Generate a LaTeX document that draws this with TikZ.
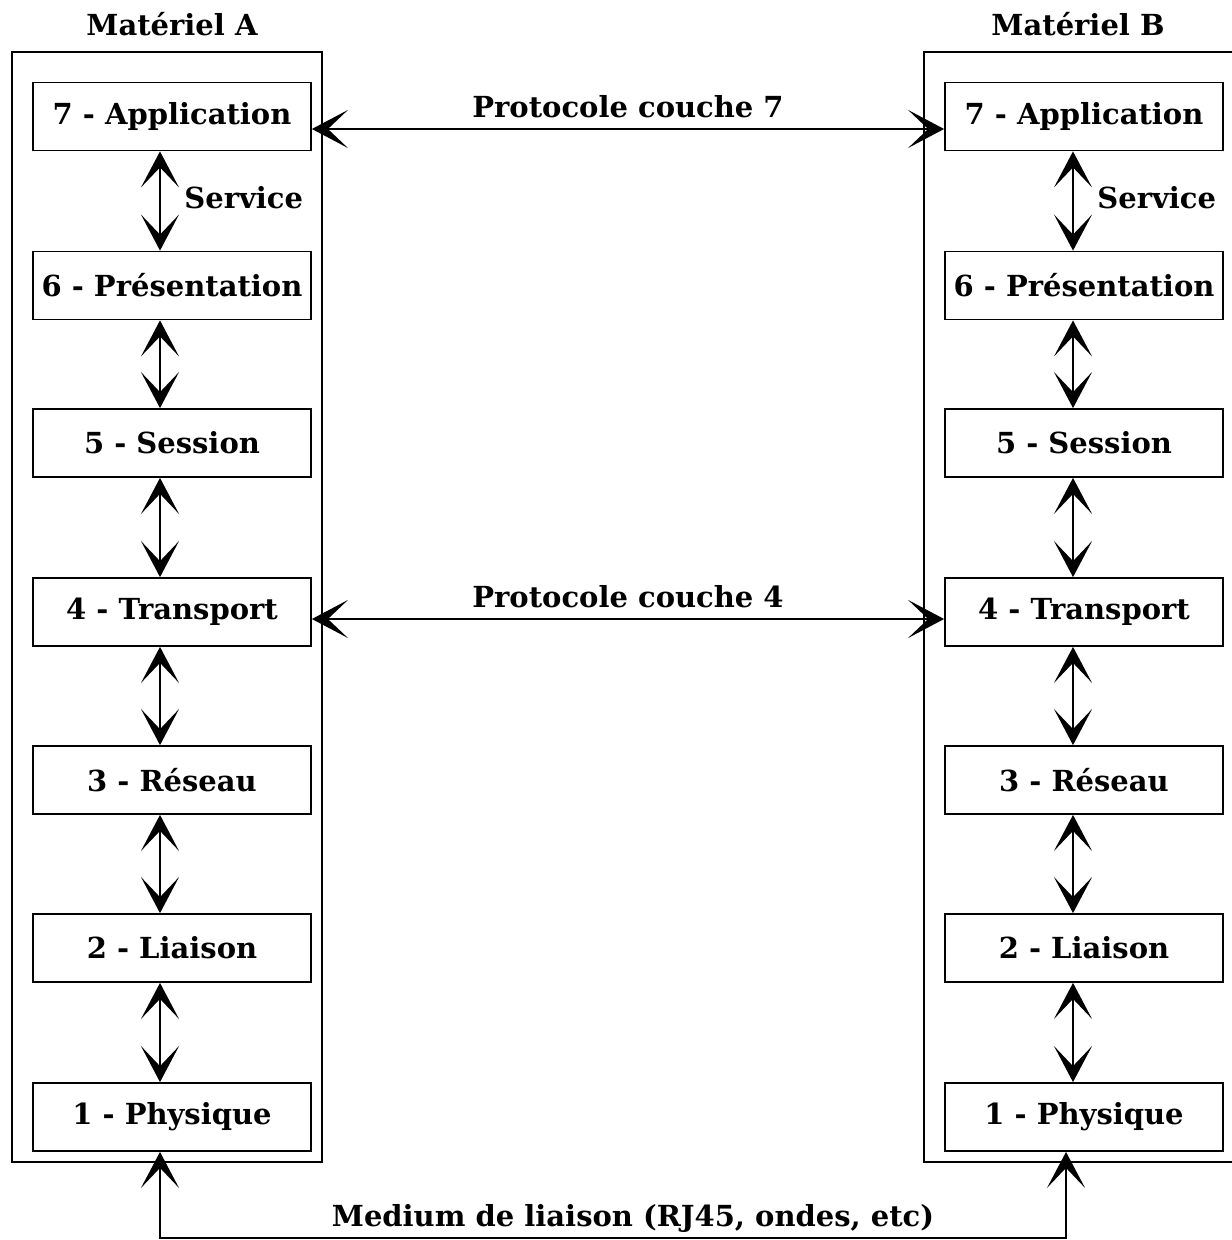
\documentclass[tikz,border=0pt]{standalone}
\usepackage{fontspec}
\setmainfont{DejaVu Serif}
\usetikzlibrary{arrows.meta}
\tikzset{
  osi frame/.style={draw, line width=1pt, minimum width=155pt, minimum height=555pt, inner sep=0pt},
  osi layer/.style={draw, line width=0.9pt, minimum width=139pt, minimum height=34pt, inner sep=0pt, font=\fontsize{14.5}{17}\selectfont\bfseries},
  osi link/.style={line width=0.8pt, {Stealth[length=18pt,width=19pt,inset=10pt]}-{Stealth[length=18pt,width=19pt,inset=10pt]}},
  osi label/.style={font=\fontsize{14.5}{17}\selectfont\bfseries, inner sep=1pt},
}
\begin{document}
\begin{tikzpicture}[x=0.5pt,y=-0.5pt]
  \useasboundingbox (0,0) rectangle (1231,1240);
  % machines
  \node[osi frame] (frameA) at (167,607) {};
  \node[osi frame, minimum width=156pt] (frameB) at (1080,607) {};
  \node[osi label] (titleA) at (172,24) {Matériel A};
  \node[osi label] (titleB) at (1078,24) {Matériel B};
  % layers
  \foreach \n/\y/\t in {7/116.5/7 - Application,6/285.5/6 - Présentation,5/443/5 - Session,4/612/4 - Transport,3/780/3 - Réseau,2/948/2 - Liaison,1/1117/1 - Physique}{
    \node[osi layer] (a\n) at (172,\y) {\t};
    \node[osi layer] (b\n) at (1084,\y) {\t};
  }
  % services between layers
  \foreach \u/\l in {7/6,6/5,5/4,4/3,3/2,2/1}{
    \draw[osi link] ([xshift=-6pt]a\u.south) -- ([xshift=-6pt]a\l.north);
    \draw[osi link] ([xshift=-5.5pt]b\u.south) -- ([xshift=-5.5pt]b\l.north);
  }
  \node[osi label, anchor=west] (servA) at (182,198) {Service};
  \node[osi label, anchor=west] (servB) at (1095,198) {Service};
  % peer protocols
  \draw[osi link] ([yshift=-6.25pt]a7.east) -- node[osi label, above=4pt] (proto7) {Protocole couche 7} ([yshift=-6.25pt]b7.west);
  \draw[osi link] ([yshift=-3.5pt]a4.east) -- node[osi label, above=4pt] (proto4) {Protocole couche 4} ([yshift=-3.5pt]b4.west);
  % medium
  \coordinate (mA) at (160,1238);
  \coordinate (mB) at (1066,1238);
  \draw[osi link] ([xshift=-6pt]a1.south) -- (mA) -- (mB) -- ([xshift=-9pt]b1.south);
  \node[osi label] (medium) at (633,1218) {Medium de liaison (RJ45, ondes, etc)};
\end{tikzpicture}
\end{document}
